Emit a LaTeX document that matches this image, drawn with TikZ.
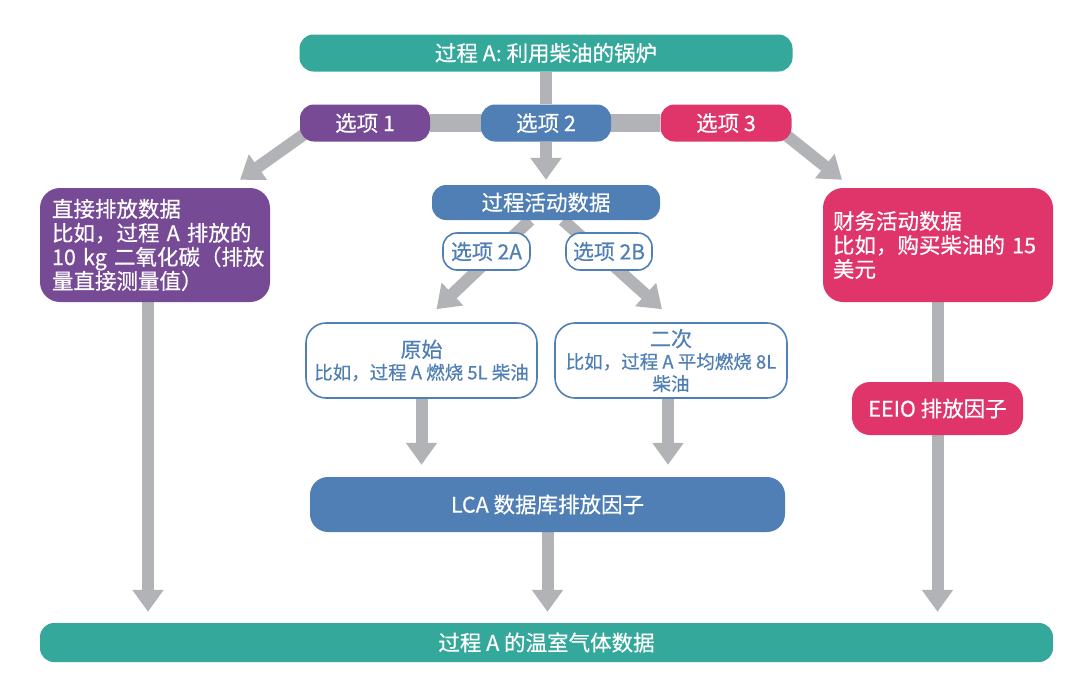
\documentclass[tikz,border=0pt]{standalone}
\usepackage{fontspec}
\setmainfont{Noto Sans CJK SC}[FakeBold=0.5]
\usetikzlibrary{arrows.meta,backgrounds}
\definecolor{teal1}{HTML}{34A89A}
\definecolor{purple1}{HTML}{774A96}
\definecolor{blue1}{HTML}{4F7FB4}
\definecolor{pink1}{HTML}{E0356A}
\definecolor{gray1}{HTML}{B1B3B6}
\begin{document}
\begin{tikzpicture}[x=1pt,y=-1pt,
  box/.style={rounded corners=14pt, inner sep=0pt, text=white, align=center,
    font=\fontsize{21.5}{24}\selectfont},
  outline/.style={draw=blue1, line width=1.6pt, fill=white, rounded corners=14pt,
    inner sep=0pt, text=blue1, align=center, font=\fontsize{18.5}{22}\selectfont},
  flow/.style={draw=gray1, line width=12pt, -{Triangle[length=22pt,width=30pt]}},
  bar/.style={draw=gray1, line width=12pt}]
\useasboundingbox (0,0) rectangle (1080,678);

% nodes
\node[box, fill=teal1, minimum width=493pt, minimum height=37pt] (top) at (546,53) {过程 A: 利用柴油的锅炉};
\node[box, fill=purple1, minimum width=130pt, minimum height=37pt] (opt1) at (365,123) {选项 1};
\node[box, fill=blue1, minimum width=130pt, minimum height=37pt] (opt2) at (546,123) {选项 2};
\node[box, fill=pink1, minimum width=131pt, minimum height=37pt] (opt3) at (726,123) {选项 3};

\node[box, fill=purple1, minimum width=230pt, minimum height=114pt, text width=206pt, align=left, rounded corners=20pt] (direct) at (155,245)
  {直接排放数据\\比如，过程~A~排放的\\10~kg~二氧化碳（排放\\量直接测量值）};
\node[box, fill=blue1, minimum width=228pt, minimum height=35pt] (pad) at (546,202.5) {过程活动数据};
\node[outline, minimum width=87pt, minimum height=37pt, font=\fontsize{21}{24}\selectfont] (opt2a) at (486.5,251.5) {选项 2A};
\node[outline, minimum width=86pt, minimum height=37pt, font=\fontsize{21}{24}\selectfont] (opt2b) at (609,251.5) {选项 2B};
\node[outline, minimum width=231pt, minimum height=75pt, rounded corners=20pt] (raw) at (421.5,360.5)
  {{\fontsize{21}{22}\selectfont 原始}\\比如，过程 A 燃烧 5L 柴油};
\node[outline, minimum width=232pt, minimum height=75pt, rounded corners=20pt] (sec) at (671,360.5)
  {{\fontsize{21}{22}\selectfont 二次}\\比如，过程 A 平均燃烧 8L\\柴油};
\node[box, fill=blue1, minimum width=475pt, minimum height=55pt, rounded corners=18pt] (lca) at (547.5,504.5) {LCA 数据库排放因子};

\node[box, fill=pink1, minimum width=230pt, minimum height=114pt, text width=210pt, align=left, rounded corners=20pt] (fin) at (938,245)
  {财务活动数据\\比如，购买柴油的~15\\美元};
\node[box, fill=pink1, minimum width=171pt, minimum height=53pt, rounded corners=18pt] (eeio) at (937.5,408.5) {EEIO 排放因子};

\node[box, fill=teal1, minimum width=1013pt, minimum height=39pt] (base) at (546.5,642.5) {过程 A 的温室气体数据};

% connectors
\begin{pgfonlayer}{background}
\path[bar, line width=18pt] (opt1) -- (opt3);
\path[bar] (top) -- (opt2);
\path[flow] ([xshift=-45pt]opt1.center) -- ([xshift=85pt,yshift=8pt]direct.north);
\path[flow] ([xshift=45pt]opt3.center) -- ([xshift=-96pt,yshift=8pt]fin.north);
\path[flow] (opt2) -- ([yshift=5pt]pad.north);
\path[flow] ([xshift=-16pt]pad.south) -- ([xshift=15pt,yshift=13pt]raw.north);
\path[flow] ([xshift=17pt]pad.south) -- ([xshift=-9pt,yshift=13pt]sec.north);
\path[flow] (raw.south) -- ([yshift=12pt]raw.south |- lca.north);
\path[flow] ([xshift=-3pt]sec.south) -- ([xshift=-3pt,yshift=12pt]sec.south |- lca.north);
\path[flow] (lca.south) -- ([yshift=11pt]lca.south |- base.north);
\path[flow] ([xshift=-7pt]direct.south) -- ([xshift=-7pt,yshift=11pt]direct.south |- base.north);
\path[bar] (fin.south) -- (fin.south |- eeio.north);
\path[flow] (eeio.south) -- ([yshift=11pt]eeio.south |- base.north);
\end{pgfonlayer}
\end{tikzpicture}
\end{document}
